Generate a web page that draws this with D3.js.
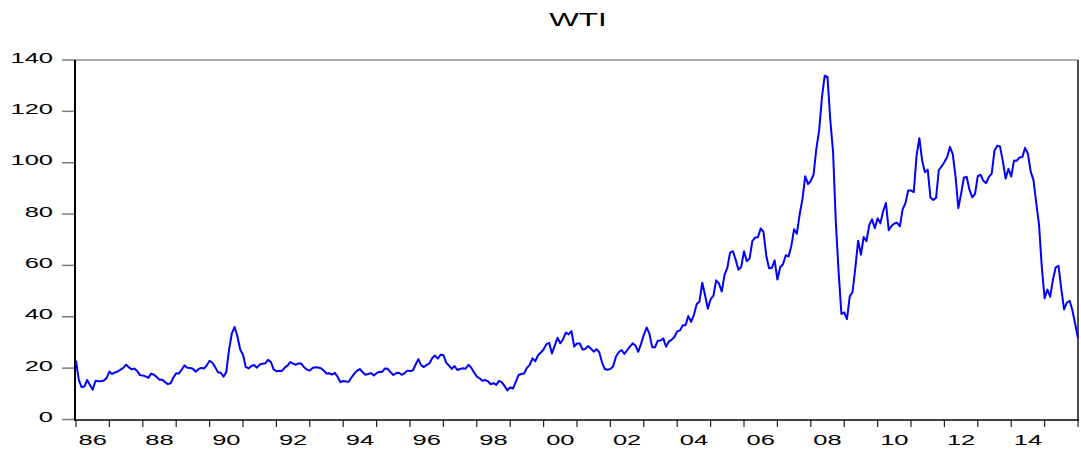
<!DOCTYPE html>
<html>
<head>
<meta charset="utf-8">
<script src="https://cdn.jsdelivr.net/npm/d3@7"></script>
<style>
  html, body { margin: 0; padding: 0; background: #fff; }
  svg { display: block; }
  text { font-family: "Liberation Sans", Arial, sans-serif; fill: #000; }
</style>
</head>
<body>
<svg id="chart" width="1081" height="450"></svg>
<script>
// Monthly WTI spot price, Jan 1986 .. Jan 2016
const startYear = 1986;
const wti = [
  22.93,15.46,12.61,12.84,15.38,13.43,11.59,15.10,14.87,14.90,15.22,16.11,
  18.65,17.75,18.30,18.68,19.44,20.07,21.34,20.31,19.53,19.86,18.85,17.28,
  17.13,16.80,16.20,17.86,17.42,16.53,15.50,15.52,14.54,13.77,14.14,16.38,
  18.02,17.94,19.48,21.07,20.12,20.05,19.78,18.58,19.59,20.10,19.86,21.10,
  22.86,22.11,20.39,18.43,18.20,16.70,18.45,27.31,33.51,36.04,32.33,27.28,
  25.23,20.48,19.90,20.83,21.23,20.19,21.40,21.69,21.89,23.23,22.46,19.50,
  18.79,19.01,18.92,20.23,20.98,22.39,21.78,21.34,21.88,21.69,20.34,19.41,
  19.03,20.09,20.32,20.25,19.95,19.09,17.89,18.01,17.50,18.15,16.61,14.52,
  15.03,14.78,14.68,16.42,17.89,19.06,19.66,18.38,17.45,17.72,18.07,17.16,
  18.04,18.57,18.54,19.90,19.74,18.45,17.33,18.02,18.23,17.43,17.99,19.03,
  18.85,19.09,21.33,23.50,21.17,20.42,21.30,21.90,23.97,24.88,23.71,25.23,
  25.13,22.18,20.97,19.70,20.82,19.26,19.66,19.95,19.80,21.33,20.19,18.33,
  16.72,16.06,15.12,15.35,14.91,13.72,14.17,13.47,15.03,14.46,13.00,11.35,
  12.52,12.01,14.68,17.31,17.72,17.92,20.10,21.28,23.80,22.69,25.00,26.10,
  27.26,29.37,29.84,25.72,28.79,31.82,29.70,31.26,33.88,33.11,34.42,28.44,
  29.59,29.61,27.24,27.49,28.63,27.60,26.43,27.37,26.20,22.17,19.64,19.39,
  19.72,20.72,24.53,26.18,27.04,25.52,26.97,28.39,29.66,28.84,26.35,29.46,
  32.95,35.83,33.51,28.17,28.11,30.66,30.76,31.57,28.31,30.34,31.11,32.13,
  34.31,34.69,36.74,36.75,40.28,38.03,40.78,44.90,45.94,53.28,48.47,43.15,
  46.84,48.15,54.19,52.98,49.83,56.35,59.00,64.99,65.59,62.26,58.32,59.41,
  65.49,61.63,62.69,69.44,70.84,70.95,74.41,73.04,63.80,58.89,59.08,61.96,
  54.51,59.28,60.44,63.98,63.46,67.49,74.12,72.36,79.92,85.80,94.77,91.69,
  92.97,95.39,105.45,112.58,125.40,133.88,133.37,116.67,104.11,76.61,57.31,41.12,
  41.71,39.09,47.94,49.65,59.03,69.64,64.15,71.05,69.41,75.72,77.99,74.47,
  78.33,76.39,81.20,84.29,73.74,75.34,76.32,76.60,75.24,81.89,84.25,89.15,
  89.17,88.58,102.86,109.53,100.90,96.26,97.30,86.33,85.52,86.32,97.16,98.56,
  100.27,102.20,106.16,103.32,94.66,82.30,87.90,94.13,94.51,89.49,86.53,87.86,
  94.76,95.31,92.94,92.02,94.51,95.77,104.67,106.57,106.29,100.54,93.86,97.63,
  94.62,100.82,100.80,102.07,102.18,105.79,103.59,96.54,93.21,84.40,75.79,59.29,
  47.22,50.58,47.82,54.45,59.27,59.82,50.90,42.87,45.48,46.22,42.44,37.19,
  31.68
];
const yTicks = [0, 20, 40, 60, 80, 100, 120, 140];
const yearTicks = d3.range(1986, 2017);
const yearLabels = ["86","88","90","92","94","96","98","00","02","04","06","08","10","12","14"];
const title = "WTI";

const svg = d3.select("#chart");
const L = 75, R = 1078, T = 60, B = 420;
const SX = 1.7; // horizontal text stretch seen in the reference

const x = d3.scaleLinear().domain([0, 360]).range([L + 1, R]);
const y = d3.scaleLinear().domain([0, 140]).range([B - 0.5, T]);

// title
svg.append("text")
  .attr("transform", `translate(578,26) scale(${SX - 0.05},1)`)
  .attr("text-anchor", "middle")
  .style("font-size", "19px")
  .text(title);

// y axis ticks + labels
const yAxis = svg.append("g");
yAxis.selectAll("line").data(yTicks).join("line")
  .attr("x1", L - 13).attr("x2", L)
  .attr("y1", d => y(d)).attr("y2", d => y(d))
  .attr("stroke", "#7a7a7a").attr("stroke-width", 1.5);
yAxis.selectAll("text").data(yTicks).join("text")
  .attr("transform", d => `translate(53,${y(d) + 2.5}) scale(${SX},1)`)
  .attr("text-anchor", "end")
  .style("font-size", "15px")
  .text(d => d);

// x axis ticks + labels
const xAxis = svg.append("g");
xAxis.selectAll("line").data(yearTicks).join("line")
  .attr("x1", d => x((d - startYear) * 12)).attr("x2", d => x((d - startYear) * 12))
  .attr("y1", B).attr("y2", B + 7)
  .attr("stroke", "#222").attr("stroke-width", 1.2);
xAxis.selectAll("text").data(yearLabels).join("text")
  .attr("transform", (d, i) => `translate(${x(i * 24 + 6)},445) scale(${SX},1)`)
  .attr("text-anchor", "middle")
  .style("font-size", "15px")
  .text(d => d);

// frame
svg.append("line").attr("x1", L).attr("x2", R).attr("y1", T).attr("y2", T)
  .attr("stroke", "#555").attr("stroke-width", 1.2);
svg.append("line").attr("x1", R).attr("x2", R).attr("y1", T).attr("y2", B)
  .attr("stroke", "#111").attr("stroke-width", 1.5);
svg.append("line").attr("x1", L).attr("x2", L).attr("y1", T).attr("y2", B + 1)
  .attr("stroke", "#000").attr("stroke-width", 2);
svg.append("line").attr("x1", L).attr("x2", R + 1).attr("y1", B).attr("y2", B)
  .attr("stroke", "#000").attr("stroke-width", 1.5);

// series line
const line = d3.line().x((d, i) => x(i)).y(d => y(d));
svg.append("path")
  .datum(wti)
  .attr("d", line)
  .attr("fill", "none")
  .attr("stroke", "#0000ff")
  .attr("stroke-width", 2)
  .attr("stroke-linejoin", "round");
</script>
</body>
</html>
